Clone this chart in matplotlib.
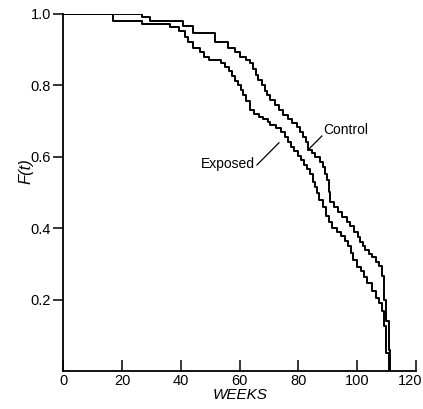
import matplotlib
matplotlib.use("Agg")
import matplotlib.pyplot as plt
import matplotlib.transforms as mtransforms

plt.rcParams['font.family'] = ['Liberation Sans', 'DejaVu Sans']

# Step-curve data (weeks, F(t) after each step)
exposed_weeks = [0, 16.8, 26.6, 36.3, 39.5, 41.5, 42.5, 44, 46.5, 48, 49.5, 53.5, 55, 56.5,
                 57.5, 58.5, 59.5, 60.5, 61.3, 62.3, 63.5, 65, 66.5, 68, 69.5, 70.5, 72.5,
                 74, 75.5, 76.5, 77.5, 78.5, 80, 81, 82, 83, 84, 85, 85.5, 86.3, 87.2, 88.3,
                 89.5, 90.5, 91.5, 93, 94.5, 96, 97, 97.8, 98.7, 100, 101.5, 102.3, 103.5,
                 105, 106.5, 107.5, 108.4, 109.2, 110.0, 110.7]
exposed_F = [1.0, 0.981, 0.971, 0.962, 0.952, 0.935, 0.92, 0.905, 0.893, 0.878, 0.871, 0.863,
             0.852, 0.84, 0.826, 0.812, 0.80, 0.787, 0.773, 0.757, 0.731, 0.720, 0.712, 0.706,
             0.697, 0.688, 0.680, 0.668, 0.655, 0.640, 0.626, 0.615, 0.603, 0.590, 0.578,
             0.566, 0.552, 0.530, 0.516, 0.498, 0.478, 0.458, 0.435, 0.418, 0.400, 0.388,
             0.378, 0.365, 0.350, 0.330, 0.311, 0.292, 0.280, 0.262, 0.245, 0.225, 0.205,
             0.19, 0.168, 0.125, 0.05, 0.0]

control_weeks = [0, 26.6, 29.5, 40.7, 44, 51.6, 56, 58.5, 60, 62, 63.5, 64.5, 65.5, 66.3,
                 67.5, 68.5, 69.2, 70.5, 72, 73.5, 74.9, 76.5, 78, 79.5, 80.7, 81.7, 82.5,
                 83.4, 84.5, 85.8, 87.4, 88.3, 89, 89.7, 90.3, 90.8, 92, 93.5, 95, 96.5,
                 97.5, 99, 100.2, 101, 102, 102.7, 104, 105, 106.5, 107.3, 108.4, 109.0,
                 109.9, 110.7, 111.2]
control_F = [1.0, 0.992, 0.981, 0.965, 0.946, 0.922, 0.905, 0.893, 0.878, 0.870, 0.862,
             0.845, 0.83, 0.815, 0.80, 0.785, 0.773, 0.760, 0.745, 0.73, 0.717, 0.705,
             0.695, 0.684, 0.670, 0.656, 0.64, 0.619, 0.610, 0.598, 0.586, 0.570, 0.552,
             0.535, 0.50, 0.472, 0.458, 0.445, 0.432, 0.418, 0.405, 0.39, 0.375, 0.362,
             0.35, 0.339, 0.328, 0.318, 0.305, 0.295, 0.265, 0.20, 0.14, 0.06, 0.0]

x_ticks = [0, 20, 40, 60, 80, 100, 120]
y_ticks = [0.2, 0.4, 0.6, 0.8, 1.0]
y_ticklabels = ["0.2", "0.4", "0.6", "0.8", "1.0"]

fig = plt.figure(figsize=(4.23, 4.09), dpi=100)
ax = fig.add_axes([0.150, 0.093, 0.833, 0.873])

ax.step(exposed_weeks, exposed_F, where='post', color='black', lw=1.4)
ax.step(control_weeks, control_F, where='post', color='black', lw=1.4)

ax.set_xlim(0, 120)
ax.set_ylim(0, 1.0)
for s in ['top', 'right']:
    ax.spines[s].set_visible(False)
for s in ['left', 'bottom']:
    ax.spines[s].set_linewidth(1.3)
    ax.spines[s].set_clip_on(False)

ax.set_xticks(x_ticks)
ax.set_xticklabels([str(t) for t in x_ticks])
ax.set_yticks(y_ticks)
ax.set_yticklabels(y_ticklabels)
ax.tick_params(axis='x', direction='in', length=8, width=1.1, labelsize=10.5, pad=2)
ax.tick_params(axis='y', direction='out', length=7, width=1.1, labelsize=10.5, pad=2)

# nudge the last x tick label so it stays inside the figure
last = ax.get_xticklabels()[-1]
last.set_transform(last.get_transform() +
                   mtransforms.ScaledTranslation(-4 / 72, 0, fig.dpi_scale_trans))

ax.set_xlabel('WEEKS', style='italic', fontsize=11, labelpad=0)
ax.set_ylabel('F(t)', style='italic', fontsize=12)
ax.yaxis.set_label_coords(-0.085, 0.56)

ax.text(88.4, 0.675, 'Control', fontsize=10, ha='left', va='center')
ax.plot([83.3, 88.0], [0.619, 0.658], color='black', lw=0.9)
ax.text(65.2, 0.581, 'Exposed', fontsize=10, ha='right', va='center')
ax.plot([65.9, 73.4], [0.577, 0.639], color='black', lw=0.9)

fig.savefig('out.png', dpi=100)
